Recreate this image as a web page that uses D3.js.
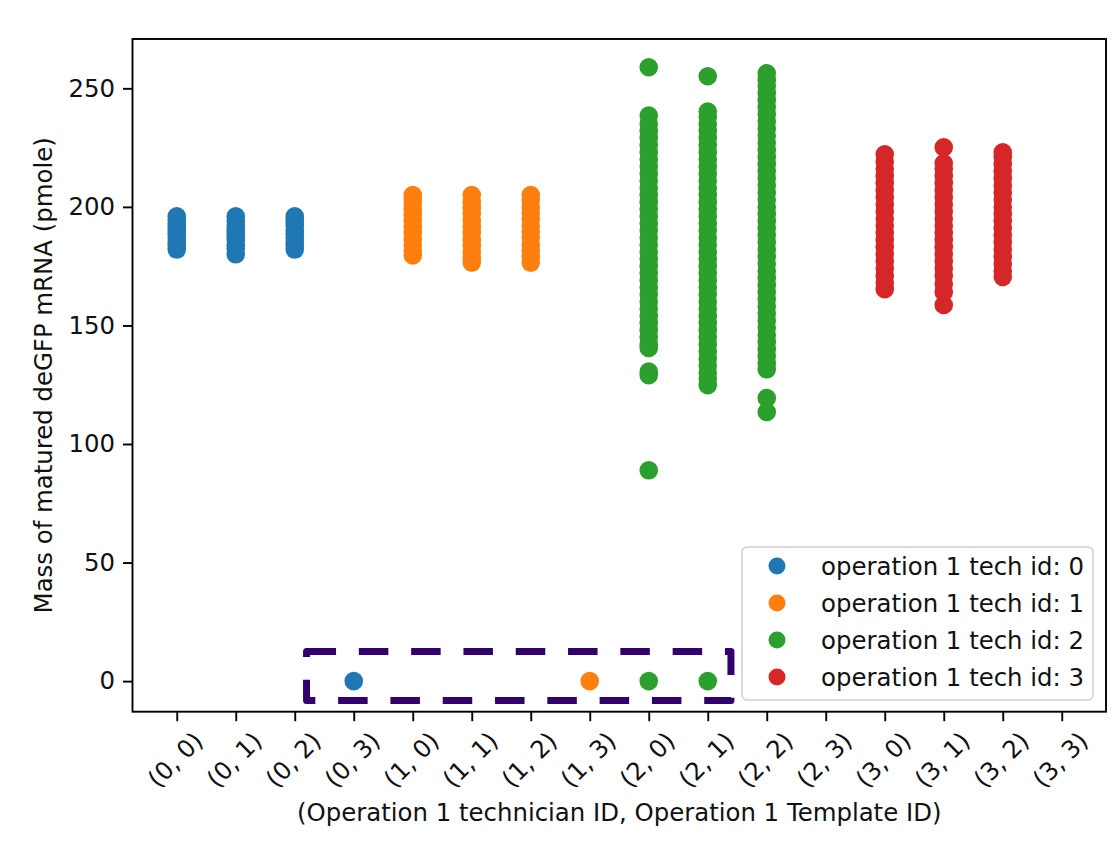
<!DOCTYPE html>
<html>
<head>
<meta charset="utf-8">
<script src="https://cdn.jsdelivr.net/npm/d3@7/dist/d3.min.js"></script>
<style>
  html, body { margin: 0; padding: 0; background: #fff; }
  text { font-family: "DejaVu Sans", sans-serif; fill: #111; }
</style>
</head>
<body>
<svg id="chart" width="1117" height="848"></svg>
<script>
// ---- Data ----
const categories = ["(0, 0)", "(0, 1)", "(0, 2)", "(0, 3)", "(1, 0)", "(1, 1)", "(1, 2)", "(1, 3)",
                    "(2, 0)", "(2, 1)", "(2, 2)", "(2, 3)", "(3, 0)", "(3, 1)", "(3, 2)", "(3, 3)"];
const seriesNames = ["operation 1 tech id: 0", "operation 1 tech id: 1", "operation 1 tech id: 2", "operation 1 tech id: 3"];
const seriesColors = ["#1f77b4", "#ff7f0e", "#2ca02c", "#d62728"];
const yTicks = [0, 50, 100, 150, 200, 250];

// values per (technician, template) category
const v00 = [182, 183.5, 185, 187, 188.5, 190, 191.5, 193, 194.5, 196];
const v01 = [180, 182.5, 184, 186, 187.5, 189, 190.5, 192, 194, 196];
const v02 = [182, 183.5, 185, 187, 188.5, 190, 192, 193.5, 195, 196];
const v03 = [0];
const v10 = [179.5, 181.5, 184, 186.5, 189, 191.5, 194, 196.5, 199, 201.5, 203.5, 205];
const v11 = [176.5, 178.5, 181, 183.5, 186, 189, 191.5, 194, 197, 199.5, 202, 205];
const v12 = [176.5, 179, 181.5, 184, 187, 189.5, 192, 195, 197.5, 200, 203, 205];
const v13 = [0];
const v20 = [0, 88.9, 129, 130.5, 140.5, 142, 145, 148, 151, 154, 157, 160, 163, 166, 169, 172, 175, 178, 181,
             184, 187, 190, 193, 196, 199, 202, 205, 208, 211, 214, 217, 220, 223, 226, 229, 232, 235, 238.5, 258.9];
const v21 = [0, 124.8, 127.5, 130, 133, 136, 139, 142, 145, 148, 151, 154, 157, 160, 163, 166, 169, 172,
             175, 178, 181, 184, 187, 190, 193, 196, 199, 202, 205, 208, 211, 214, 217, 220, 223, 226,
             229, 232, 235, 238, 240.2, 255.1];
const v22 = [113.5, 119.4, 131.5, 134, 137, 140, 143, 146, 149, 152, 155, 158, 161, 164, 167, 170, 173,
             176, 179, 182, 185, 188, 191, 194, 197, 200, 203, 206, 209, 212, 215, 218, 221, 224, 227,
             230, 233, 236, 239, 242, 245, 248, 251, 253.5, 256.3];
const v30 = [165.3, 168, 171, 174, 177, 180, 183, 186, 189, 192, 195, 198, 201, 204, 207, 210, 213, 216, 219, 222.2];
const v31 = [158.6, 164, 167.5, 171, 174, 177, 180, 183, 186, 189, 192, 195, 198, 201, 204, 207, 210, 213, 216, 218.4, 225.1];
const v32 = [170.5, 173, 176, 179, 182, 185, 188, 191, 194, 197, 200, 203, 206, 209, 212, 215, 218, 221, 223];

const groups = [
  { tech: 0, cat: "(0, 0)", values: v00 }, { tech: 0, cat: "(0, 1)", values: v01 },
  { tech: 0, cat: "(0, 2)", values: v02 }, { tech: 0, cat: "(0, 3)", values: v03 },
  { tech: 1, cat: "(1, 0)", values: v10 }, { tech: 1, cat: "(1, 1)", values: v11 },
  { tech: 1, cat: "(1, 2)", values: v12 }, { tech: 1, cat: "(1, 3)", values: v13 },
  { tech: 2, cat: "(2, 0)", values: v20 }, { tech: 2, cat: "(2, 1)", values: v21 },
  { tech: 2, cat: "(2, 2)", values: v22 },
  { tech: 3, cat: "(3, 0)", values: v30 }, { tech: 3, cat: "(3, 1)", values: v31 },
  { tech: 3, cat: "(3, 2)", values: v32 }
];
// highlighted zero-value region (category span and value span)
const highlightCats = ["(0, 2)", "(2, 1)"];
const highlightVals = [-8.2, 12.5];

// ---- Layout ----
const L = 132.5, R = 1106, T = 39, B = 711.7;
const svg = d3.select("#chart");
const FS = 24.4;

const x = d3.scaleLinear().domain([-0.75, categories.length - 1 + 0.75]).range([L, R]);
const xi = c => x(categories.indexOf(c));
const y = d3.scaleLinear().domain([-12.9, 270.8]).range([B, T]);

// points
const pts = [];
groups.forEach(g => g.values.forEach(v => pts.push({ tech: g.tech, cat: g.cat, v })));
svg.append("g").selectAll("circle").data(pts).join("circle")
  .attr("cx", d => xi(d.cat))
  .attr("cy", d => y(d.v))
  .attr("r", 9.3)
  .attr("fill", d => seriesColors[d.tech]);

// dashed highlight box (clockwise from top-left)
const hx0 = xi(highlightCats[0]) + 11.8, hx1 = xi(highlightCats[1]) + 23.2;
const hyBot = y(highlightVals[0]), hyTop = y(highlightVals[1]);
const boxPath = d3.path();
boxPath.moveTo(hx0, hyTop); boxPath.lineTo(hx1, hyTop); boxPath.lineTo(hx1, hyBot);
boxPath.lineTo(hx0, hyBot); boxPath.closePath();
svg.append("path").attr("d", boxPath.toString())
  .attr("fill", "none").attr("stroke", "#32006c").attr("stroke-width", 7)
  .attr("stroke-dasharray", "29.5 22.8").attr("stroke-dashoffset", 0)
  .attr("stroke-linejoin", "round");

// axes
const xAxis = d3.axisBottom(x).tickValues(d3.range(categories.length))
  .tickFormat(i => categories[i]).tickSize(9.5).tickPadding(4);
const gx = svg.append("g").attr("transform", `translate(0,${B})`).call(xAxis);
gx.select(".domain").remove();
gx.selectAll(".tick line").attr("stroke", "#000").attr("stroke-width", 1.9);
gx.selectAll(".tick text").remove();
gx.selectAll(".tick").append("text")
  .attr("transform", "translate(-2,48) rotate(-45)")
  .attr("text-anchor", "middle").attr("dominant-baseline", "central")
  .style("font-size", FS + "px").text(i => categories[i]);

const yAxis = d3.axisLeft(y).tickValues(yTicks).tickSize(9.5).tickPadding(8);
const gy = svg.append("g").attr("transform", `translate(${L},0)`).call(yAxis);
gy.select(".domain").remove();
gy.selectAll(".tick line").attr("stroke", "#000").attr("stroke-width", 1.9);
gy.selectAll(".tick text").style("font-size", FS + "px").attr("fill", "#111");

// frame
svg.append("rect").attr("x", L).attr("y", T).attr("width", R - L).attr("height", B - T)
  .attr("fill", "none").attr("stroke", "#000").attr("stroke-width", 1.9);

// axis labels
svg.append("text").attr("x", (L + R) / 2).attr("y", 820.5).attr("text-anchor", "middle")
  .style("font-size", FS + "px").text("(Operation 1 technician ID, Operation 1 Template ID)");
svg.append("text").attr("transform", `translate(52,${(T + B) / 2}) rotate(-90)`)
  .attr("text-anchor", "middle").style("font-size", FS + "px")
  .text("Mass of matured deGFP mRNA (pmole)");

// legend
const lg = svg.append("g");
lg.append("rect").attr("x", 742).attr("y", 547).attr("width", 351).attr("height", 153)
  .attr("rx", 5).attr("fill", "#fff").attr("fill-opacity", 0.8)
  .attr("stroke", "#d0d0d0").attr("stroke-width", 1.5);
const rows = lg.selectAll("g.row").data(seriesNames).join("g").attr("class", "row")
  .attr("transform", (d, i) => `translate(0,${566 + i * 37})`);
rows.append("circle").attr("cx", 777).attr("cy", 0).attr("r", 8.5).attr("fill", (d, i) => seriesColors[i]);
rows.append("text").attr("x", 821).attr("y", 0).attr("dominant-baseline", "central")
  .style("font-size", FS + "px").text(d => d);
</script>
</body>
</html>
